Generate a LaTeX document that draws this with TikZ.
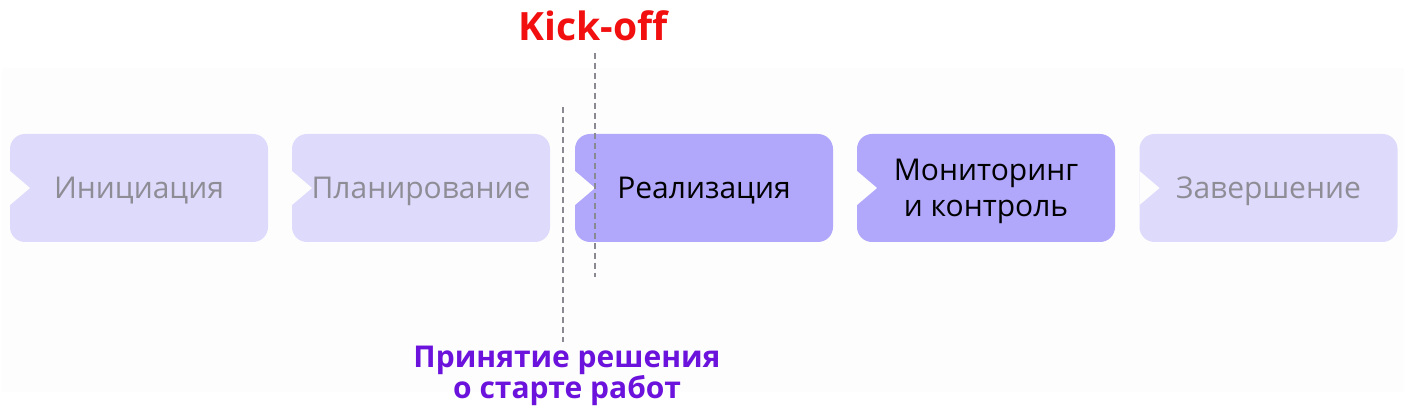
\documentclass[tikz,border=0pt]{standalone}
\usepackage{fontspec}
\setmainfont{Open Sans}
\usepackage{xcolor}
\definecolor{phaseLight}{HTML}{DEDAFB}
\definecolor{phaseDark}{HTML}{B1A7FB}
\definecolor{phaseGrey}{HTML}{8E8D96}
\definecolor{bandGrey}{HTML}{FDFDFD}
\definecolor{kickRed}{HTML}{F20F0F}
\definecolor{decisionViolet}{HTML}{6B12DC}
\definecolor{markGrey}{HTML}{8A8A92}
\usepackage{tikz}
\usetikzlibrary{positioning,calc}

\begin{document}
\begin{tikzpicture}[x=1pt, y=1pt,
    every node/.style={font=\fontsize{30}{36}\selectfont},
    phase/.style={rounded corners=15pt, minimum width=258pt, minimum height=108pt,
                  inner sep=0pt, align=center, text depth=0pt,
                  path picture={\fill[bandGrey, sharp corners]
                     ($(path picture bounding box.west)+(0,17)$)
                     -- ($(path picture bounding box.west)+(20,0)$)
                     -- ($(path picture bounding box.west)+(0,-17)$) -- cycle;}},
    idle/.style={phase, fill=phaseLight, text=phaseGrey},
    active/.style={phase, fill=phaseDark, text=black},
    marker/.style={draw=markGrey, line width=1.3pt, dash pattern=on 6pt off 4pt},
    caption/.style={font=\fontsize{30}{31}\selectfont\bfseries, align=center}]
  \useasboundingbox (0,0) rectangle (1406,414);
  \fill[bandGrey] (2,22) rectangle (1404,346);
  \node[idle]   (init)   at (139,226)   {Инициация};
  \node[idle]   (plan)   at (421,226)   {Планирование};
  \node[active] (impl)   at (704,226)   {Реализация};
  \node[active] (mon)    at (986,226)   {Мониторинг\\и контроль};
  \node[idle]   (close)  at (1268.5,226) {Завершение};
  \node[caption, text=kickRed, font=\fontsize{39}{44}\selectfont\bfseries] (kick) at (593,388) {Kick-off};
  \node[caption, text=decisionViolet] (decide) at (567,38) {Принятие решения\\о старте работ};
  \coordinate (kickTop) at (595,361);
  \coordinate (kickEnd) at (595,137);
  \coordinate (decTop) at (563,307);
  \coordinate (decEnd) at (563,72);
  \draw[marker] (kickTop) -- (kickEnd);
  \draw[marker] (decTop) -- (decEnd);
\end{tikzpicture}
\end{document}
